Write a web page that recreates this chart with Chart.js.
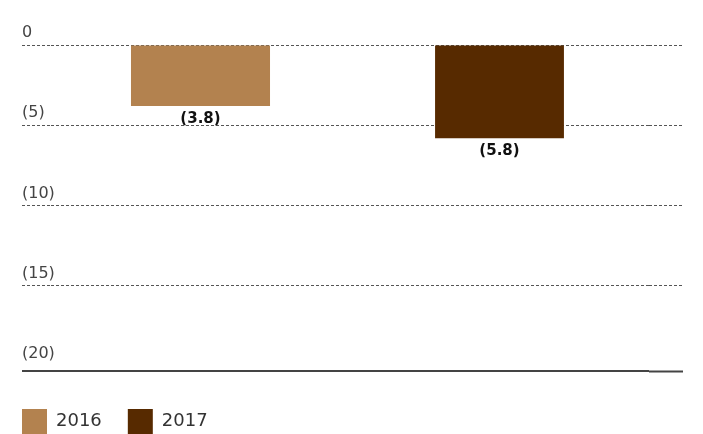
<!DOCTYPE html>
<html>
<head>
<meta charset="utf-8">
<script src="https://cdn.jsdelivr.net/npm/chart.js@4"></script>
<style>
  html, body { margin: 0; padding: 0; background: #fff; }
  #wrap { width: 703px; height: 434px; }
</style>
</head>
<body>
<div id="wrap"><canvas id="myChart" width="703" height="434"></canvas></div>
<script>
// years and net result (negative values, shown in brackets)
var categories = ['2016', '2017'];
var values = [-3.8, -5.8];
var yTicks = [0, -5, -10, -15, -20];
var yMin = -20.3;

var barColors = ['#B3824F', '#572A00'];
var barShare = [0.465, 0.431];

function bracket(v, digits) {
  if (v < 0) return '(' + Math.abs(v).toFixed(digits) + ')';
  return v.toFixed(digits);
}

// one dataset per year so each gets its own colour and legend entry
var datasets = categories.map(function (c, i) {
  return {
    label: c,
    data: categories.map(function (_, j) { return j === i ? values[i] : null; }),
    backgroundColor: barColors[i],
    borderWidth: 0,
    barPercentage: barShare[i],
    categoryPercentage: 1,
    yAxisID: 'y'
  };
});

function gridColor(ctx) {
  var v = ctx.tick && ctx.tick.value;
  if (v === yMin) return '#444';
  if (v === -20) return 'rgba(0,0,0,0)';
  return '#555';
}
function gridWidth(ctx) { return ctx.tick && ctx.tick.value === yMin ? 2 : 1; }
function gridDash(ctx) { return ctx.tick && ctx.tick.value === yMin ? [] : [3, 2]; }
function setTicks(scale) {
  scale.ticks = yTicks.concat([yMin]).map(function (v) { return { value: v }; });
}

// value labels under each bar
var barLabels = {
  id: 'barLabels',
  afterDatasetsDraw: function (chart) {
    var ctx = chart.ctx;
    ctx.save();
    ctx.font = 'bold 15px "DejaVu Sans"';
    ctx.fillStyle = '#111';
    ctx.textAlign = 'center';
    ctx.textBaseline = 'middle';
    chart.data.datasets.forEach(function (ds, i) {
      var meta = chart.getDatasetMeta(i);
      meta.data.forEach(function (bar, j) {
        var v = ds.data[j];
        if (v === null) return;
        ctx.fillText(bracket(v, 1), bar.x, bar.y + 13);
      });
    });
    ctx.restore();
  }
};

var ctx = document.getElementById('myChart').getContext('2d');
var myChart = new Chart(ctx, {
  type: 'bar',
  data: { labels: categories, datasets: datasets },
  plugins: [barLabels],
  options: {
    responsive: false,
    animation: false,
    skipNull: true,
    layout: { padding: { top: 45, left: -4, right: 20, bottom: -10 } },
    plugins: {
      tooltip: { enabled: false },
      legend: {
        position: 'bottom',
        align: 'start',
        labels: {
          boxWidth: 25,
          boxHeight: 25,
          padding: 26,
          color: '#333',
          font: { family: '"DejaVu Sans"', size: 18 }
        }
      }
    },
    scales: {
      x: {
        display: true,
        grid: { display: false },
        border: { display: false },
        ticks: { display: false },
        afterFit: function (s) { s.height = 12; }
      },
      y: {
        position: 'left',
        min: yMin,
        max: 0,
        afterBuildTicks: setTicks,
        afterFit: function (s) { s.width = 55; },
        grid: {
          color: gridColor,
          lineWidth: gridWidth,
          tickColor: gridColor,
          tickWidth: gridWidth,
          tickBorderDash: gridDash,
          drawTicks: true,
          tickLength: 29
        },
        border: { display: false, dash: gridDash },
        ticks: {
          mirror: true,
          crossAlign: 'near',
          padding: -29,
          labelOffset: -12,
          autoSkip: false,
          color: '#444',
          font: { family: '"DejaVu Sans"', size: 16 },
          callback: function (v) { return v === yMin ? '' : bracket(v, 0); }
        }
      },
      yRight: {
        position: 'right',
        min: yMin,
        max: 0,
        afterBuildTicks: setTicks,
        afterFit: function (s) { s.width = 34; },
        grid: {
          drawOnChartArea: false,
          tickColor: gridColor,
          tickWidth: gridWidth,
          tickBorderDash: gridDash,
          drawTicks: true,
          tickLength: 34
        },
        border: { display: false },
        ticks: { display: false }
      }
    }
  }
});
</script>
</body>
</html>
